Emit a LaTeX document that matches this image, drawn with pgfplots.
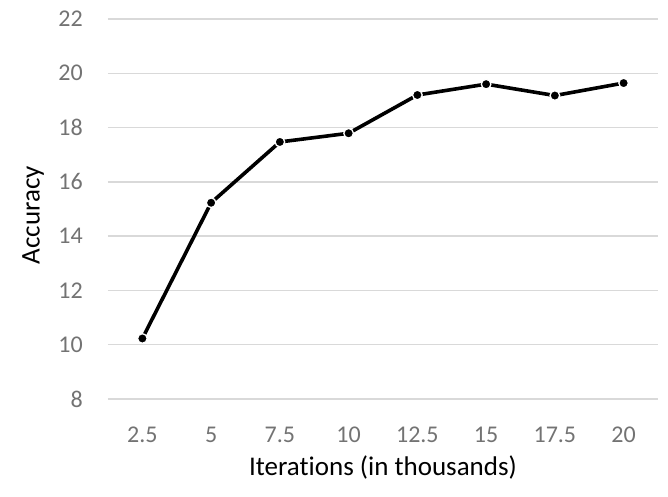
\documentclass[border=0pt]{standalone}
\usepackage{fontspec}
\setmainfont[Ligatures={NoCommon,NoRequired,NoContextual}]{Carlito}
\usepackage{pgfplots}
\pgfplotsset{compat=1.18}
\definecolor{gridc}{HTML}{D9D9D9}
\definecolor{tickc}{HTML}{737373}
\begin{document}
\begin{tikzpicture}
\begin{axis}[
 scale only axis, width=550bp, height=380bp,
 at={(0,0)}, anchor=south west,
 xmin=0.5, xmax=8.5, ymin=8, ymax=22,
 xtick={1,...,8}, xticklabels={2.5,5,7.5,10,12.5,15,17.5,20},
 ytick={8,10,...,22},
 axis line style={draw=none},
 major tick length=0pt,
 ymajorgrids, grid style={gridc, line width=1.3bp},
 tick label style={font=\fontsize{24bp}{28bp}\selectfont, text=tickc},
 /pgf/number format/assume math mode=true,
 y tick label style={inner sep=0pt, xshift=-25bp},
 x tick label style={inner sep=0pt, yshift=-28bp},
 xlabel={Iterations (in thousands)}, ylabel={Accuracy},
 every axis x label/.style={at={(axis description cs:0.5,-0.179)}, anchor=center, font=\fontsize{27bp}{32bp}\selectfont},
 every axis y label/.style={at={(axis description cs:-0.136,0.484)}, anchor=center, rotate=90, font=\fontsize{27bp}{32bp}\selectfont},
 clip=false,
]
\addplot[black, line width=3.6bp, mark=*, mark size=4.8bp, mark options={fill=black, draw=white, line width=1.3bp}] coordinates {(1,10.23)(2,15.23)(3,17.47)(4,17.79)(5,19.2)(6,19.6)(7,19.18)(8,19.64)};
\end{axis}
\pgfresetboundingbox
\path[use as bounding box] (-108bp,-98bp) rectangle (560bp,399bp);
\end{tikzpicture}
\end{document}
